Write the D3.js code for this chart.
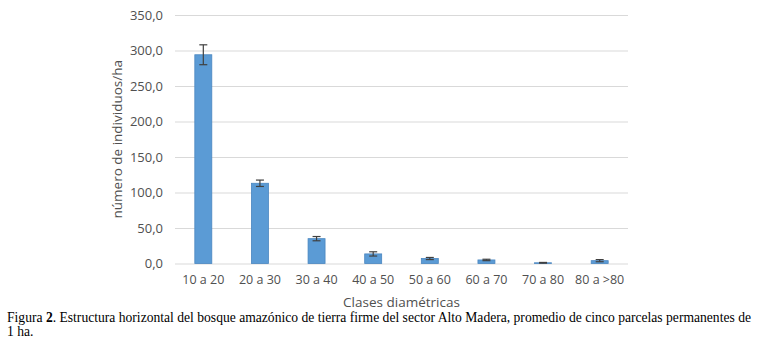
<!DOCTYPE html>
<html>
<head>
<meta charset="utf-8">
<script src="https://cdn.jsdelivr.net/npm/d3@7"></script>
<style>
  body { margin: 0; background: #fff; }
  svg { display: block; }
</style>
</head>
<body>
<div id="chart"></div>
<script>
// data
var categories = ["10 a 20", "20 a 30", "30 a 40", "40 a 50", "50 a 60", "60 a 70", "70 a 80", "80 a >80"];
var values = [294, 113, 35, 13.5, 7, 5, 1, 4];
var errors = [14, 4.5, 3, 3, 1.5, 1, 0.5, 1.5];
var yTicks = [0, 50, 100, 150, 200, 250, 300, 350];

var width = 758, height = 342;
var margin = { top: 15, right: 130, bottom: 78, left: 175 };

var svg = d3.select("#chart")
  .append("svg")
  .attr("width", width)
  .attr("height", height);

var x = d3.scaleBand()
  .domain(categories)
  .range([margin.left, width - margin.right])
  .paddingInner(0.7)
  .paddingOuter(0.35);

var y = d3.scaleLinear()
  .domain([0, 350])
  .range([height - margin.bottom - 0.5, margin.top]);

var fmt = function (d) { return d3.format(".1f")(d).replace(".", ","); };

// gridlines + y labels
var yAxis = d3.axisLeft(y).tickValues(yTicks).tickFormat(fmt).tickSize(0).tickPadding(12);
svg.append("g")
  .attr("transform", "translate(" + margin.left + ",0)")
  .call(yAxis)
  .call(function (g) { g.select(".domain").remove(); })
  .call(function (g) {
    g.selectAll(".tick line").clone()
      .attr("x2", width - margin.right - margin.left)
      .attr("stroke", "#d9d9d9")
      .attr("stroke-width", 1.2);
  })
  .call(function (g) {
    g.selectAll("text")
      .attr("fill", "#505050")
      .attr("font-family", "'Open Sans', sans-serif")
      .attr("font-size", "13px");
  });

// bars
svg.selectAll(".bar")
  .data(values)
  .enter()
  .append("rect")
  .attr("class", "bar")
  .attr("x", function (d, i) { return x(categories[i]); })
  .attr("width", x.bandwidth())
  .attr("y", function (d) { return y(d); })
  .attr("height", function (d) { return y(0) - y(d); })
  .attr("fill", "#5b9bd5")
  .attr("stroke", "#4a86c0")
  .attr("stroke-width", 0.8);

// error bars
var eb = svg.selectAll(".err")
  .data(values)
  .enter()
  .append("g")
  .attr("class", "err")
  .attr("stroke", "#404040")
  .attr("stroke-width", 1.2);

eb.append("line")
  .attr("x1", function (d, i) { return x(categories[i]) + x.bandwidth() / 2; })
  .attr("x2", function (d, i) { return x(categories[i]) + x.bandwidth() / 2; })
  .attr("y1", function (d, i) { return y(d + errors[i]); })
  .attr("y2", function (d, i) { return y(d - errors[i]); });

[1, -1].forEach(function (s) {
  eb.append("line")
    .attr("x1", function (d, i) { return x(categories[i]) + x.bandwidth() / 2 - 4; })
    .attr("x2", function (d, i) { return x(categories[i]) + x.bandwidth() / 2 + 4; })
    .attr("y1", function (d, i) { return y(d + s * errors[i]); })
    .attr("y2", function (d, i) { return y(d + s * errors[i]); });
});

// x labels
var xAxis = d3.axisBottom(x).tickSize(0).tickPadding(12);
svg.append("g")
  .attr("transform", "translate(0," + y(0) + ")")
  .call(xAxis)
  .call(function (g) { g.select(".domain").remove(); })
  .call(function (g) {
    g.selectAll("text")
      .attr("fill", "#505050")
      .attr("font-family", "'Open Sans', sans-serif")
      .attr("font-size", "12.5px");
  });

// axis titles
svg.append("text")
  .attr("x", (margin.left + width - margin.right) / 2)
  .attr("y", 307)
  .attr("text-anchor", "middle")
  .attr("fill", "#505050")
  .attr("font-family", "'Open Sans', sans-serif")
  .attr("font-size", "13.5px")
  .text("Clases diamétricas");

svg.append("text")
  .attr("transform", "translate(122," + (y(175)) + ") rotate(-90)")
  .attr("text-anchor", "middle")
  .attr("fill", "#505050")
  .attr("font-family", "'Open Sans', sans-serif")
  .attr("font-size", "13.5px")
  .text("número de individuos/ha");

// caption
var cap = svg.append("text")
  .attr("x", 7)
  .attr("y", 322)
  .attr("fill", "#000")
  .attr("font-family", "'Liberation Serif', serif")
  .attr("font-size", "13.6px");
cap.append("tspan").text("Figura ");
cap.append("tspan").attr("font-weight", "bold").text("2");
cap.append("tspan").text(". Estructura horizontal del bosque amazónico de tierra firme del sector Alto Madera, promedio de cinco parcelas permanentes de");

svg.append("text")
  .attr("x", 7)
  .attr("y", 336)
  .attr("fill", "#000")
  .attr("font-family", "'Liberation Serif', serif")
  .attr("font-size", "13.6px")
  .text("1 ha.");
</script>
</body>
</html>
